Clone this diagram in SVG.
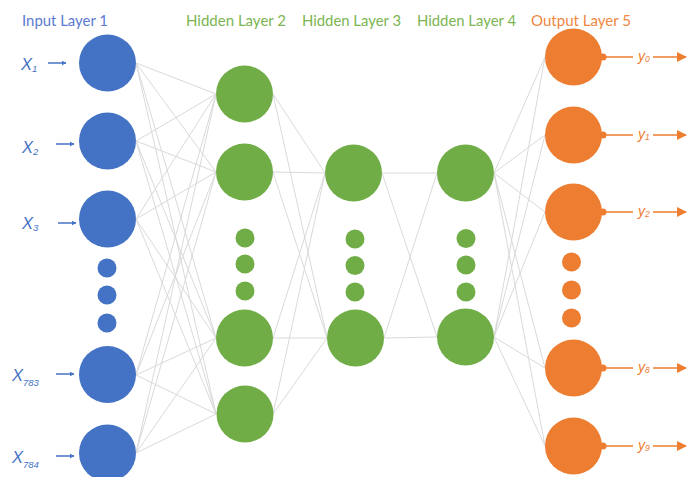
<svg xmlns="http://www.w3.org/2000/svg" width="692" height="477" viewBox="0 0 692 477">
  <defs>
    <marker id="ahBlue" viewBox="0 0 10 10" refX="9" refY="5" markerWidth="5" markerHeight="5" orient="auto" markerUnits="userSpaceOnUse">
      <path d="M0,0 L10,5 L0,10 z" fill="#4472c4"/>
    </marker>
    <marker id="ahOrange" viewBox="0 0 10 10" refX="9" refY="5" markerWidth="10" markerHeight="10" orient="auto" markerUnits="userSpaceOnUse">
      <path d="M0,0 L10,5 L0,10 z" fill="#ed7d31"/>
    </marker>
  </defs>
  <style>
    .title { font-family: Lato, "Open Sans", sans-serif; font-size: 15px; }
    .t-in { fill: #5b7bd2; }
    .t-hid { fill: #7bb552; }
    .t-out { fill: #f0873f; }
    .in { fill: #4472c4; }
    .hid { fill: #70ad47; }
    .out { fill: #ed7d31; }
    .edge { stroke: #d9d9d9; stroke-width: 1; fill: none; }
    .xlab { font-family: "Liberation Sans", Arial, sans-serif; font-style: italic; font-size: 16.5px; fill: #4472c4; }
    .xsub { font-size: 9.5px; }
    .ylab { font-family: "Liberation Sans", Arial, sans-serif; font-style: italic; font-size: 14px; fill: #ed7d31; }
    .ysub { font-size: 8.5px; }
    .arrIn { stroke: #4472c4; stroke-width: 1.5; marker-end: url(#ahBlue); }
    .arrOut { stroke: #ed7d31; stroke-width: 1.5; }
    .arrOutHead { stroke: #ed7d31; stroke-width: 1.5; marker-end: url(#ahOrange); }
  </style>

  <!-- layer titles -->
  <g id="titles">
    <text class="title t-in" x="22" y="26" textLength="86" lengthAdjust="spacingAndGlyphs">Input Layer 1</text>
    <text class="title t-hid" x="186" y="26" textLength="100" lengthAdjust="spacingAndGlyphs">Hidden Layer 2</text>
    <text class="title t-hid" x="302" y="26" textLength="99" lengthAdjust="spacingAndGlyphs">Hidden Layer 3</text>
    <text class="title t-hid" x="417" y="26" textLength="99" lengthAdjust="spacingAndGlyphs">Hidden Layer 4</text>
    <text class="title t-out" x="531" y="26" textLength="100" lengthAdjust="spacingAndGlyphs">Output Layer 5</text>
  </g>

  <!-- full connections between consecutive layers (edge midpoints) -->
  <g id="connectors">
    <!-- input -> hidden 2 -->
    <path class="edge" d="M136,63 L216,94 M136,63 L216,172 M136,63 L216,338 M136,63 L216,414
                         M136,141 L216,94 M136,141 L216,172 M136,141 L216,338 M136,141 L216,414
                         M136,219 L216,94 M136,219 L216,172 M136,219 L216,338 M136,219 L216,414
                         M136,375 L216,94 M136,375 L216,172 M136,375 L216,338 M136,375 L216,414
                         M136,453 L216,94 M136,453 L216,172 M136,453 L216,338 M136,453 L216,414"/>
    <!-- hidden 2 -> hidden 3 -->
    <path class="edge" d="M273,94 L325,173 M273,94 L327,338
                         M273,172 L325,173 M273,172 L327,338
                         M273,338 L325,173 M273,338 L327,338
                         M273,414 L325,173 M273,414 L327,338"/>
    <!-- hidden 3 -> hidden 4 -->
    <path class="edge" d="M382,173 L437,173 M382,173 L437,337 M384,338 L437,173 M384,338 L437,337"/>
    <!-- hidden 4 -> output -->
    <path class="edge" d="M494,173 L545,57 M494,173 L545,135 M494,173 L545,212 M494,173 L545,368 M494,173 L545,446
                         M494,337 L545,57 M494,337 L545,135 M494,337 L545,212 M494,337 L545,368 M494,337 L545,446"/>
  </g>

  <!-- input layer -->
  <g id="input-layer">
    <g id="x1"><circle class="in" cx="107.5" cy="63" r="28.5"/>
      <text class="xlab" x="21" y="70">X<tspan class="xsub" dy="2">1</tspan></text>
      <line class="arrIn" x1="48" y1="63" x2="66" y2="63"/></g>
    <g id="x2"><circle class="in" cx="107.5" cy="141" r="28.5"/>
      <text class="xlab" x="22" y="153">X<tspan class="xsub" dy="2">2</tspan></text>
      <line class="arrIn" x1="56" y1="144" x2="74" y2="144"/></g>
    <g id="x3"><circle class="in" cx="107.5" cy="219" r="28.5"/>
      <text class="xlab" x="22" y="229">X<tspan class="xsub" dy="2">3</tspan></text>
      <line class="arrIn" x1="58" y1="223" x2="76" y2="223"/></g>
    <g id="in-dots">
      <circle class="in" cx="107" cy="268" r="9.5"/>
      <circle class="in" cx="107" cy="295" r="9.5"/>
      <circle class="in" cx="107" cy="323" r="9.5"/>
    </g>
    <g id="x783"><circle class="in" cx="107.5" cy="374.5" r="28.5"/>
      <text class="xlab" x="12" y="381">X<tspan class="xsub" dy="5">783</tspan></text>
      <line class="arrIn" x1="56" y1="374" x2="74" y2="374"/></g>
    <g id="x784"><circle class="in" cx="107.5" cy="453" r="28.5"/>
      <text class="xlab" x="12" y="463">X<tspan class="xsub" dy="5">784</tspan></text>
      <line class="arrIn" x1="56" y1="456" x2="74" y2="456"/></g>
  </g>

  <!-- hidden layer 2 -->
  <g id="hidden-2">
    <circle class="hid" cx="244.5" cy="94" r="28.5"/>
    <circle class="hid" cx="244.5" cy="172" r="28.5"/>
    <circle class="hid" cx="245" cy="238" r="9.5"/>
    <circle class="hid" cx="245" cy="264" r="9.5"/>
    <circle class="hid" cx="245" cy="291" r="9.5"/>
    <circle class="hid" cx="244.5" cy="338" r="28.5"/>
    <circle class="hid" cx="245" cy="414" r="28.5"/>
  </g>

  <!-- hidden layer 3 -->
  <g id="hidden-3">
    <circle class="hid" cx="353.5" cy="173" r="28.5"/>
    <circle class="hid" cx="355" cy="239" r="9.5"/>
    <circle class="hid" cx="355" cy="265.5" r="9.5"/>
    <circle class="hid" cx="355" cy="292" r="9.5"/>
    <circle class="hid" cx="355.5" cy="338" r="28.5"/>
  </g>

  <!-- hidden layer 4 -->
  <g id="hidden-4">
    <circle class="hid" cx="465.5" cy="173" r="28.5"/>
    <circle class="hid" cx="466" cy="238.5" r="9.5"/>
    <circle class="hid" cx="466" cy="265" r="9.5"/>
    <circle class="hid" cx="466" cy="292" r="9.5"/>
    <circle class="hid" cx="465.5" cy="337" r="28.5"/>
  </g>

  <!-- output layer -->
  <g id="output-layer">
    <g id="y0"><circle class="out" cx="573.5" cy="57" r="28.5"/><circle class="out" cx="603" cy="57" r="3.5"/>
      <line class="arrOut" x1="603" y1="57" x2="633" y2="57"/>
      <text class="ylab" x="638" y="61">y<tspan class="ysub" dy="1">0</tspan></text>
      <line class="arrOutHead" x1="653" y1="57" x2="686" y2="57"/></g>
    <g id="y1"><circle class="out" cx="573.5" cy="135" r="28.5"/><circle class="out" cx="603" cy="135" r="3.5"/>
      <line class="arrOut" x1="603" y1="135" x2="633" y2="135"/>
      <text class="ylab" x="638" y="139">y<tspan class="ysub" dy="1">1</tspan></text>
      <line class="arrOutHead" x1="653" y1="135" x2="686" y2="135"/></g>
    <g id="y2"><circle class="out" cx="573.5" cy="212" r="28.5"/><circle class="out" cx="603" cy="212" r="3.5"/>
      <line class="arrOut" x1="603" y1="212" x2="633" y2="212"/>
      <text class="ylab" x="638" y="216">y<tspan class="ysub" dy="1">2</tspan></text>
      <line class="arrOutHead" x1="653" y1="212" x2="686" y2="212"/></g>
    <g id="out-dots">
      <circle class="out" cx="571.5" cy="262" r="9.5"/>
      <circle class="out" cx="571.5" cy="290" r="9.5"/>
      <circle class="out" cx="571.5" cy="318" r="9.5"/>
    </g>
    <g id="y8"><circle class="out" cx="573.5" cy="368" r="28.5"/><circle class="out" cx="603" cy="368" r="3.5"/>
      <line class="arrOut" x1="603" y1="368" x2="633" y2="368"/>
      <text class="ylab" x="638" y="372">y<tspan class="ysub" dy="1">8</tspan></text>
      <line class="arrOutHead" x1="653" y1="368" x2="686" y2="368"/></g>
    <g id="y9"><circle class="out" cx="573.5" cy="446" r="28.5"/><circle class="out" cx="603" cy="446" r="3.5"/>
      <line class="arrOut" x1="603" y1="446" x2="633" y2="446"/>
      <text class="ylab" x="638" y="450">y<tspan class="ysub" dy="1">9</tspan></text>
      <line class="arrOutHead" x1="653" y1="446" x2="686" y2="446"/></g>
  </g>
</svg>
